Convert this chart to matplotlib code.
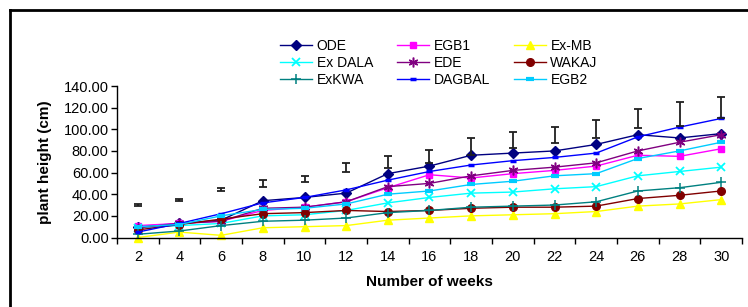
import numpy as np
import matplotlib
matplotlib.use("Agg")
import matplotlib.pyplot as plt
from matplotlib.lines import Line2D

plt.rcParams['font.family'] = ['Liberation Sans', 'DejaVu Sans']

weeks = [2, 4, 6, 8, 10, 12, 14, 16, 18, 20, 22, 24, 26, 28, 30]

ode     = [10, 13, 16, 34, 37, 41, 59, 66, 76, 78, 80, 86, 95, 92, 96]
egb1    = [11, 13, 15, 25, 28, 33, 46, 58, 55, 59, 62, 66, 76, 75, 82]
ex_mb   = [0, 5, 2, 9, 10, 11, 16, 18, 20, 21, 22, 24, 29, 31, 35]
ex_dala = [9, 11, 13, 20, 21, 25, 32, 37, 41, 42, 45, 47, 57, 61, 65]
ede     = [9, 13, 15, 27, 28, 33, 47, 50, 57, 62, 65, 69, 80, 88, 95]
wakaj   = [7, 12, 17, 22, 23, 25, 24, 25, 27, 28, 28, 29, 36, 39, 43]
exkwa   = [3, 6, 11, 15, 16, 18, 23, 25, 28, 29, 30, 33, 43, 46, 51]
dagbal  = [5, 13, 22, 32, 37, 44, 53, 61, 67, 71, 74, 78, 93, 102, 110]
egb2    = [10, 12, 20, 26, 27, 31, 40, 43, 49, 52, 57, 59, 73, 80, 88]

# floating error bars (centre, half range)
err_mid  = [30, 34.5, 44.5, 50, 54, 64.5, 69.7, 75, 84, 90, 95, 100, 110, 114, 120]
err_half = [0.8, 0.8, 1.5, 3, 2.6, 4, 5.5, 6, 7.7, 7.4, 7.4, 8.5, 8.8, 11, 10]

series = [
    ("ODE", ode, "#000080", "D", 5.2, {}),
    ("EGB1", egb1, "#FF00FF", "s", 5, {}),
    ("Ex-MB", ex_mb, "#FFFF00", "^", 6, {}),
    ("Ex DALA", ex_dala, "#00FFFF", "x", 6, {"markeredgewidth": 1.3}),
    ("EDE", ede, "#800080", (6, 2, 0), 7, {"markeredgewidth": 1.1}),
    ("WAKAJ", wakaj, "#800000", "o", 5.5, {}),
    ("ExKWA", exkwa, "#008080", "+", 7, {"markeredgewidth": 1.1}),
    ("DAGBAL", dagbal, "#0000FF", "_", 4, {"markeredgewidth": 2.5}),
    ("EGB2", egb2, "#00CCFF", "_", 6, {"markeredgewidth": 3}),
]

fig = plt.figure(figsize=(7.48, 3.07), dpi=100)
ax = fig.add_axes([117 / 748, 1 - 237.5 / 307, (742 - 117) / 748, (237.5 - 86) / 307])

x = np.arange(len(weeks))
handles = {}
for name, vals, col, mk, ms, kw in series:
    ln, = ax.plot(x, vals, color=col, marker=mk, markersize=ms, linewidth=1.0,
                  markerfacecolor=col, markeredgecolor=col, label=name,
                  clip_on=False, **kw)
    handles[name] = ln

ax.errorbar(x, err_mid, yerr=err_half, fmt='none', ecolor='#202020',
            elinewidth=1.3, capsize=3, capthick=1.3, clip_on=False)

ax.set_xlim(-0.5, len(weeks) - 0.5)
ax.set_ylim(0, 140)
ax.set_yticks(np.arange(0, 141, 20))
ax.set_yticklabels([f"{v:.2f}" for v in range(0, 141, 20)], fontsize=10.5)
ax.set_xticks(x)
ax.set_xticklabels([str(w) for w in weeks], fontsize=10.5)
ax.set_xticks(np.arange(-0.5, len(weeks)), minor=True)
ax.tick_params(axis='x', which='major', length=0, pad=9)
ax.tick_params(axis='x', which='minor', length=4, width=1, direction='out')
ax.tick_params(axis='y', length=4, width=1, direction='out', pad=2)

for s in ['top', 'right']:
    ax.spines[s].set_visible(False)
for s in ['left', 'bottom']:
    ax.spines[s].set_linewidth(1)

ax.set_xlabel("Number of weeks", fontsize=11, fontweight='bold', labelpad=8)
ax.set_ylabel("plant height (cm)", fontsize=11, fontweight='bold', labelpad=8)

order = ["ODE", "Ex DALA", "ExKWA", "EGB1", "EDE", "DAGBAL", "Ex-MB", "WAKAJ", "EGB2"]
fig.legend([handles[n] for n in order], order, ncol=3, loc='upper left',
           bbox_to_anchor=(280 / 748, 1 - 39 / 307), frameon=False, fontsize=10,
           handlelength=2.3, handletextpad=0.35, columnspacing=1.7,
           labelspacing=0.22, borderpad=0, borderaxespad=0)

# outer chart frame
fig.add_artist(Line2D([10 / 748, 1.01], [1 - 10 / 307] * 2, color='black', lw=2,
                      transform=fig.transFigure))
fig.add_artist(Line2D([10 / 748] * 2, [-0.01, 1 - 10 / 307], color='black', lw=2,
                      transform=fig.transFigure))

fig.savefig("out.png", dpi=100)
